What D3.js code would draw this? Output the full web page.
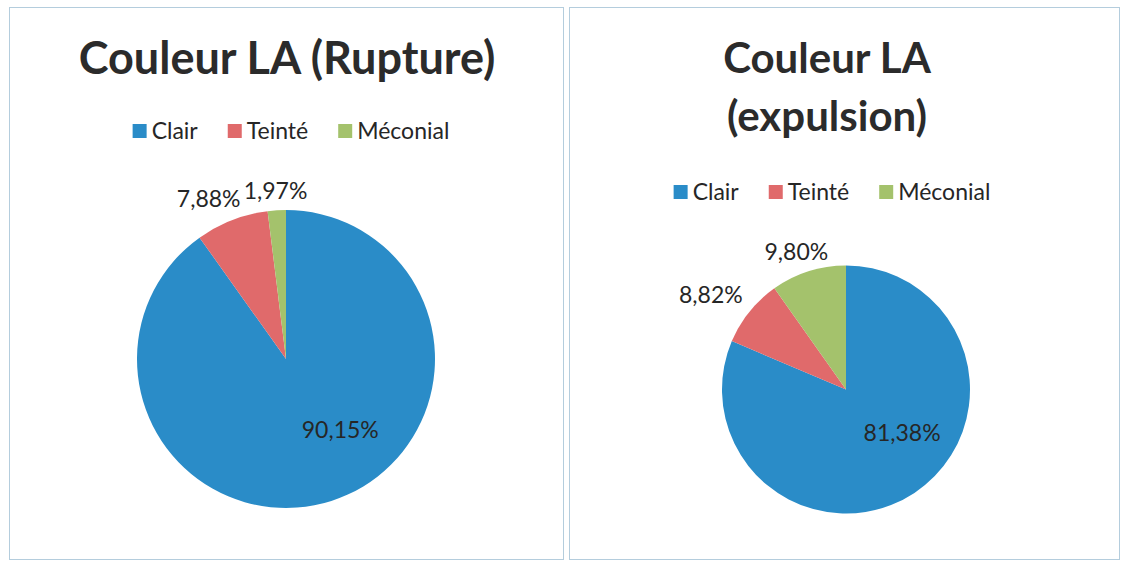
<!DOCTYPE html>
<html lang="fr">
<head>
<meta charset="utf-8">
<title>Couleur LA</title>
<script src="https://cdn.jsdelivr.net/npm/d3@7"></script>
<style>
  body { margin:0; background:#ffffff; }
  svg text { font-family: Lato, "Open Sans", sans-serif; fill:#262626; }
</style>
</head>
<body>
<script>
// categories and values (percent)
var categories = ["Clair", "Teinté", "Méconial"];
var ruptureValues = [90.15, 7.88, 1.97];
var expulsionValues = [81.38, 8.82, 9.80];
var sliceColors = ["#2a8cc8", "#e06a6b", "#a4c26c"];

var w = 1123, h = 562;

// layout for each panel
var panels = [
  { title: ["Couleur LA (Rupture)"], values: ruptureValues, titleSize: 45,
    box: [9.5, 7.5, 554, 552], titleX: 287, titleY: 74,
    legendX: 291, legendY: 131, cx: 286, cy: 359, r: 149,
    nudges: [[27, -14], [-16, -3], [0, 1]] },
  { title: ["Couleur LA", "(expulsion)"], values: expulsionValues, titleSize: 42,
    box: [569.5, 7.5, 550, 552], titleX: 827, titleY: 73,
    legendX: 832, legendY: 192, cx: 846, cy: 389.5, r: 124,
    nudges: [[15, -18.5], [-23, -4], [-6, 0]] }
];

var svg = d3.select("body").append("svg")
  .attr("width", w).attr("height", h);

var pie = d3.pie().sort(null).value(function(d) { return d; });
var fmt = function(v) { return v.toFixed(2).replace(".", ",") + "%"; };

panels.forEach(function(p) {
  // frame
  svg.append("rect")
    .attr("x", p.box[0]).attr("y", p.box[1])
    .attr("width", p.box[2]).attr("height", p.box[3])
    .attr("fill", "none").attr("stroke", "#b4cddd").attr("stroke-width", 1);

  // title
  var t = svg.append("text")
    .attr("x", p.titleX).attr("y", p.titleY)
    .attr("text-anchor", "middle")
    .style("font-size", p.titleSize + "px").style("font-weight", "bold")
    .style("fill", "#2b2b2b");
  p.title.forEach(function(line, i) {
    t.append("tspan").attr("x", p.titleX).attr("dy", i === 0 ? 0 : 58).text(line);
  });

  // legend
  var lg = svg.append("g");
  var xCur = 0;
  categories.forEach(function(c, i) {
    var item = lg.append("g").attr("transform", "translate(" + xCur + ",0)");
    item.append("rect").attr("x", 0).attr("y", -7).attr("width", 14).attr("height", 14)
      .attr("fill", sliceColors[i]);
    var tx = item.append("text").attr("x", 19).attr("y", 0).attr("dy", "0.35em")
      .style("font-size", "23px").text(c);
    xCur += 19 + tx.node().getComputedTextLength() + 30;
  });
  var lgW = xCur - 30;
  lg.attr("transform", "translate(" + (p.legendX - lgW / 2) + "," + p.legendY + ")");

  // pie
  var g = svg.append("g").attr("transform", "translate(" + p.cx + "," + p.cy + ")");
  var arcs = pie(p.values);
  var arc = d3.arc().innerRadius(0).outerRadius(p.r);
  g.selectAll("path").data(arcs).enter().append("path")
    .attr("d", arc)
    .attr("fill", function(d, i) { return sliceColors[i]; });

  var inner = d3.arc().innerRadius(p.r * 0.6).outerRadius(p.r * 0.6);
  var outer = d3.arc().innerRadius(p.r + 20).outerRadius(p.r + 20);
  g.selectAll("text.lbl").data(arcs).enter().append("text")
    .attr("class", "lbl")
    .attr("transform", function(d, i) {
      var c = (i === 0 ? inner : outer).centroid(d);
      return "translate(" + (c[0] + p.nudges[i][0]) + "," + (c[1] + p.nudges[i][1]) + ")";
    })
    .attr("text-anchor", "middle").attr("dy", "0.35em")
    .style("font-size", "23px")
    .text(function(d) { return fmt(d.data); });
});
</script>
</body>
</html>
